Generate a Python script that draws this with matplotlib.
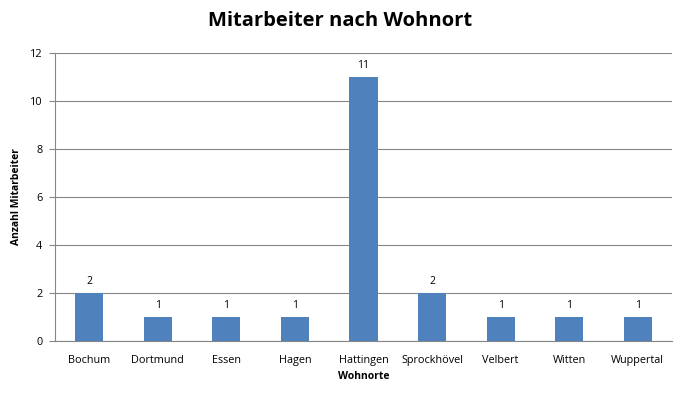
import matplotlib.pyplot as plt

# Daten
orte = ['Bochum', 'Dortmund', 'Essen', 'Hagen', 'Hattingen',
        'Sprockhövel', 'Velbert', 'Witten', 'Wuppertal']
anzahl = [2, 1, 1, 1, 11, 2, 1, 1, 1]

plt.rcParams['font.family'] = ['Open Sans', 'DejaVu Sans']

fig = plt.figure(figsize=(6.81, 3.97), dpi=100)
ax = fig.add_axes([55 / 681, 56 / 397, 617 / 681, 288 / 397])

x = range(len(orte))
bars = ax.bar(x, anzahl, width=0.41, color='#4F81BD', zorder=3)
for b, v in zip(bars, anzahl):
    ax.text(b.get_x() + b.get_width() / 2, v + 0.25, str(v),
            ha='center', va='bottom', fontsize=7.5)

ax.set_xlim(-0.5, len(orte) - 0.5)
ax.set_ylim(0, 12)
ax.set_yticks(range(0, 13, 2))
ax.set_xticks(list(x))
ax.set_xticklabels(orte, fontsize=7.8)
ax.tick_params(axis='y', labelsize=7.8, length=4, color='#868686', pad=5)
ax.tick_params(axis='x', length=0, pad=10)
ax.grid(axis='y', color='#868686', linewidth=0.8, zorder=0)

for s in ['top', 'right']:
    ax.spines[s].set_visible(False)
ax.spines['left'].set_color('#868686')
ax.spines['bottom'].set_color('#868686')

ax.set_ylabel('Anzahl Mitarbeiter', fontsize=7.5, fontweight='bold', labelpad=6)
ax.set_xlabel('Wohnorte', fontsize=7.5, fontweight='bold', labelpad=4)
fig.text(0.5, 0.947, 'Mitarbeiter nach Wohnort', ha='center', va='center',
         fontsize=14.5, fontweight='bold')

fig.savefig('out.png', dpi=100)
